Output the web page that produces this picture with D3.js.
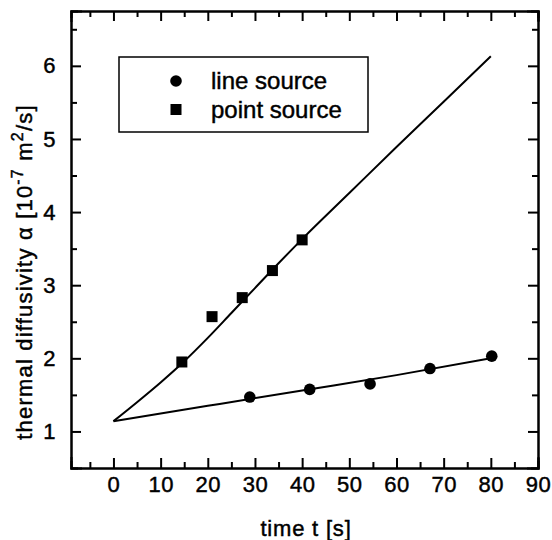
<!DOCTYPE html>
<html>
<head>
<meta charset="utf-8">
<script src="https://cdn.jsdelivr.net/npm/d3@7"></script>
<style>
	body { margin: 0; background: #fff; }
	svg { font-family: "Liberation Sans", Arial, sans-serif; }
	svg text { stroke: #000; stroke-width: 0.45px; }
	.axis path, .axis line { stroke: #000; stroke-width: 2; }
	.axis text { font-size: 22px; fill: #000; letter-spacing: 0.5px; }
</style>
</head>
<body>
<svg width="552" height="540"></svg>
<script>
// measured points
var lineSrcT = [28.9, 41.6, 54.4, 67.1, 80.2];
var lineSrcA = [1.47, 1.575, 1.65, 1.86, 2.03];
var pointSrcT = [14.5, 20.9, 27.3, 33.7, 40.0];
var pointSrcA = [1.95, 2.57, 2.83, 3.20, 3.62];

// fitted curves
var lineFitT = [0, 20, 40, 60, 80];
var lineFitA = [1.14, 1.35, 1.56, 1.77, 2.0];
var pointFitT = [0, 5, 10, 15, 20, 25, 30, 35, 40, 50, 60, 70, 80];
var pointFitA = [1.14, 1.40, 1.67, 1.96, 2.28, 2.62, 2.96, 3.30, 3.63, 4.26, 4.89, 5.51, 6.13];

var xTicks = [0, 10, 20, 30, 40, 50, 60, 70, 80, 90];
var xMinor = [-5, 5, 15, 25, 35, 45, 55, 65, 75, 85];
var yTicks = [1, 2, 3, 4, 5, 6];
var yMinor = [1.5, 2.5, 3.5, 4.5, 5.5, 6.5];

var legendNames = ["line source", "point source"];

var svg = d3.select("svg");
var x = d3.scaleLinear().domain([-9, 90]).range([71, 538]);
var y = d3.scaleLinear().domain([0.5, 6.75]).range([468, 11]);

function zip(a, b) { return a.map(function(v, i) { return [v, b[i]]; }); }

// minor ticks (no labels)
svg.append("g").attr("class", "axis").attr("transform", "translate(0,468)")
	.call(d3.axisBottom(x).tickValues(xMinor).tickSize(-6).tickFormat(""));
svg.append("g").attr("class", "axis").attr("transform", "translate(0,11)")
	.call(d3.axisTop(x).tickValues(xMinor).tickSize(-6).tickFormat(""));
svg.append("g").attr("class", "axis").attr("transform", "translate(71,0)")
	.call(d3.axisLeft(y).tickValues(yMinor).tickSize(-6).tickFormat(""));
svg.append("g").attr("class", "axis").attr("transform", "translate(538,0)")
	.call(d3.axisRight(y).tickValues(yMinor).tickSize(-6).tickFormat(""));

// major ticks
svg.append("g").attr("class", "axis").attr("transform", "translate(0,468)")
	.call(d3.axisBottom(x).tickValues(xTicks).tickSize(-10).tickPadding(8).tickFormat(d3.format("d")));
svg.append("g").attr("class", "axis").attr("transform", "translate(0,11)")
	.call(d3.axisTop(x).tickValues(xTicks).tickSize(-10).tickFormat(""));
svg.append("g").attr("class", "axis").attr("transform", "translate(71,0)")
	.call(d3.axisLeft(y).tickValues(yTicks).tickSize(-10).tickPadding(15).tickFormat(d3.format("d")));
svg.append("g").attr("class", "axis").attr("transform", "translate(538,0)")
	.call(d3.axisRight(y).tickValues(yTicks).tickSize(-10).tickFormat(""));

svg.selectAll(".axis path").attr("stroke-linecap", "square");

// fit lines
var line = d3.line().x(function(d) { return x(d[0]); }).y(function(d) { return y(d[1]); })
	.curve(d3.curveMonotoneX);
svg.append("path").datum(zip(lineFitT, lineFitA))
	.attr("d", line).attr("fill", "none").attr("stroke", "#000").attr("stroke-width", 2);
svg.append("path").datum(zip(pointFitT, pointFitA))
	.attr("d", line).attr("fill", "none").attr("stroke", "#000").attr("stroke-width", 2);

// markers
svg.append("g").selectAll("circle")
	.data(zip(lineSrcT, lineSrcA))
	.enter().append("circle")
		.attr("cx", function(d) { return x(d[0]); })
		.attr("cy", function(d) { return y(d[1]); })
		.attr("r", 5.8);
svg.append("g").selectAll("rect")
	.data(zip(pointSrcT, pointSrcA))
	.enter().append("rect")
		.attr("x", function(d) { return x(d[0]) - 5.5; })
		.attr("y", function(d) { return y(d[1]) - 5.5; })
		.attr("width", 11).attr("height", 11);

// legend
var leg = svg.append("g");
leg.append("rect").attr("x", 119).attr("y", 57).attr("width", 249).attr("height", 75)
	.attr("fill", "#fff").attr("stroke", "#000").attr("stroke-width", 1.5);
leg.append("circle").attr("cx", 176).attr("cy", 81).attr("r", 5.8);
leg.append("rect").attr("x", 170.5).attr("y", 104).attr("width", 11).attr("height", 11);
leg.selectAll("text").data(legendNames).enter().append("text")
	.attr("x", 211).attr("y", function(d, i) { return 89 + i * 29; })
	.attr("font-size", 24).text(function(d) { return d; });

// axis titles
svg.append("text").attr("x", 306).attr("y", 536).attr("text-anchor", "middle")
	.attr("font-size", 22).attr("letter-spacing", 0.8).text("time t [s]");

var yt = svg.append("text").attr("transform", "translate(32,272) rotate(-90)")
	.attr("text-anchor", "middle").attr("font-size", 22).attr("letter-spacing", 1.2);
yt.append("tspan").text("thermal diffusivity \u03b1 [10");
yt.append("tspan").attr("dy", -9).attr("font-size", 16).text("-7");
yt.append("tspan").attr("dy", 9).text(" m");
yt.append("tspan").attr("dy", -9).attr("font-size", 16).text("2");
yt.append("tspan").attr("dy", 9).text("/s]");
</script>
</body>
</html>
